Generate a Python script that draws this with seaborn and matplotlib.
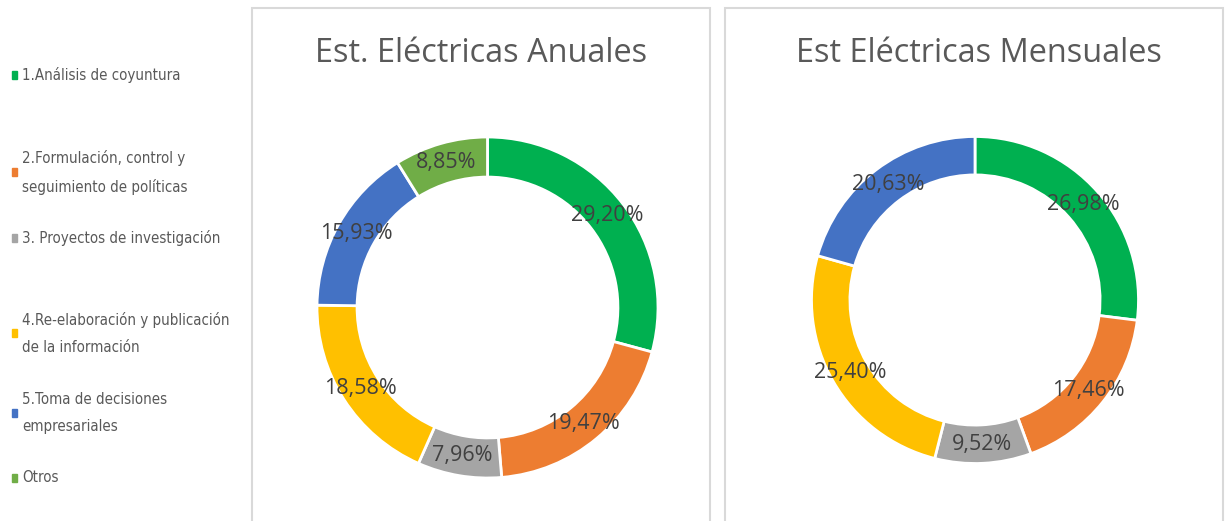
"""
Donut charts: uso de las estadísticas eléctricas (anuales vs mensuales).
"""
import matplotlib
matplotlib.use("Agg")
import matplotlib.pyplot as plt
from matplotlib.patches import Rectangle
import seaborn as sns

# ──── data ────
categories = [
    "1.Análisis de coyuntura",
    "2.Formulación, control y\nseguimiento de políticas",
    "3. Proyectos de investigación",
    "4.Re-elaboración y publicación\nde la información",
    "5.Toma de decisiones\nempresariales",
    "Otros",
]
anuales = [29.20, 19.47, 7.96, 18.58, 15.93, 8.85]
mensuales = [26.98, 17.46, 9.52, 25.40, 20.63]
titles = ["Est. Eléctricas Anuales", "Est Eléctricas Mensuales"]

sns.set_theme(style="white")
palette = sns.color_palette(["#00B050", "#ED7D31", "#A5A5A5", "#FFC000", "#4472C4", "#70AD47"])
plt.rcParams["font.family"] = ["Open Sans", "DejaVu Sans"]

W, H = 1230, 521
fig = plt.figure(figsize=(W / 100, H / 100), dpi=100)
fig.patch.set_facecolor("white")

def fx(px):
    return px / W

def fy(py):
    return 1 - py / H

# chart boxes
for x0, x1 in [(252, 710), (725, 1223)]:
    fig.patches.append(Rectangle((fx(x0), -0.1), fx(x1 - x0), fy(8) + 0.1,
                                 transform=fig.transFigure, fill=False,
                                 edgecolor="#D9D9D9", linewidth=1.5))

def fmt(p):
    return f"{p:.2f}%".replace(".", ",")

# donut geometry (centre x, centre y, radius) in pixels
geoms = [(487.5, 307.5, 170.5), (975, 300, 163.5)]
title_x = [481, 979]

for vals, title, (cx, cy, r), tx in zip([anuales, mensuales], titles, geoms, title_x):
    ax = fig.add_axes([fx(cx - r), fy(cy + r), fx(2 * r), 2 * r / H])
    wedges, texts, autotexts = ax.pie(
        vals, colors=palette[:len(vals)], startangle=90, counterclock=False,
        autopct=fmt, pctdistance=0.883,
        wedgeprops=dict(width=0.235, edgecolor="white", linewidth=2),
        textprops=dict(color="#404040", fontsize=15.5))
    ax.set_xlim(-1, 1)
    ax.set_ylim(-1, 1)
    ax.set_aspect("equal")
    ax.axis("off")
    fig.text(fx(tx), fy(54), title, ha="center", va="center",
             fontsize=23.4, color="#595959")

# legend, placed by hand like the original
legend_y = [75, 172, 238, 333, 413, 478]
for lab, col, y in zip(categories, palette, legend_y):
    fig.patches.append(Rectangle((fx(12), fy(y + 4)), fx(5), 8 / H,
                                 transform=fig.transFigure, color=col))
    fig.text(fx(22), fy(y), lab, ha="left", va="center", fontsize=10.8,
             color="#595959", linespacing=2.0,
             family="DejaVu Sans", fontstretch="condensed")

fig.savefig("out.png", dpi=100, facecolor="white")
